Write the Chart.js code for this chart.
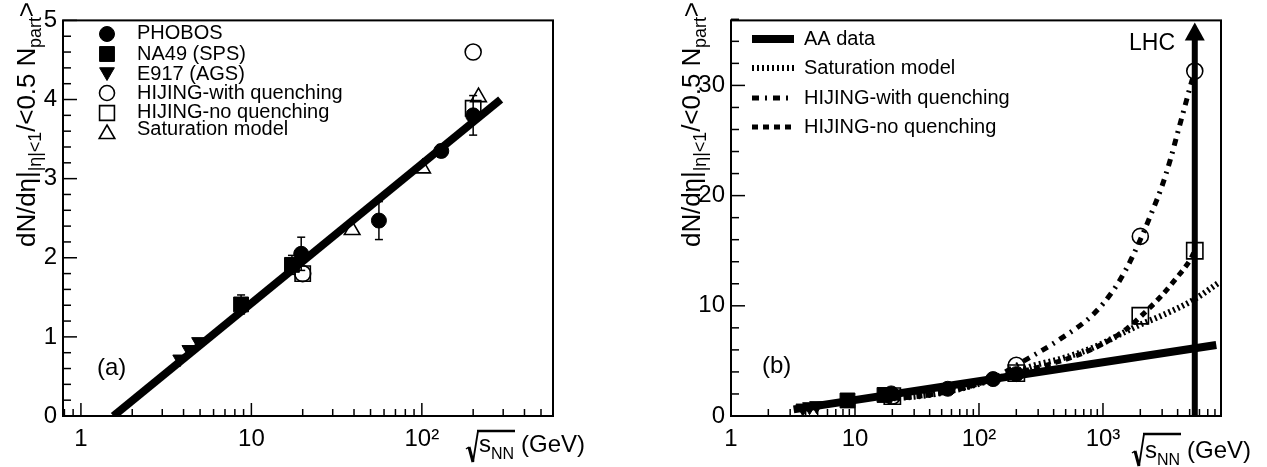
<!DOCTYPE html>
<html>
<head>
<meta charset="utf-8">
<script src="https://cdn.jsdelivr.net/npm/chart.js@4.4.0/dist/chart.umd.min.js"></script>
<style>
  html, body { margin: 0; padding: 0; background: #fff; }
  #wrap { position: relative; width: 1267px; height: 467px; overflow: hidden; }
  #boxA { position: absolute; left: 0; top: 0; width: 633px; height: 467px; }
  #boxB { position: absolute; left: 633px; top: 0; width: 634px; height: 467px; }
</style>
</head>
<body>
<div id="wrap">
  <div id="boxA"><canvas id="chartA" width="633" height="467"></canvas></div>
  <div id="boxB"><canvas id="chartB" width="634" height="467"></canvas></div>
</div>
<script>
const FONT = '"Liberation Sans", Arial, Helvetica, sans-serif';

// ---- measured points ----
const phobosEnergy = [19.6, 56, 130, 200];
const phobosMult = [2.05, 2.47, 3.35, 3.80];
const phobosErr = [0.21, 0.24, 0.08, 0.25];

const na49Energy = [8.7, 17.3];
const na49Mult = [1.41, 1.91];
const na49Err = [0.12, 0.12];

const e917Energy = [3.8, 4.3, 4.9];
const e917Mult = [0.72, 0.84, 0.94];

// ---- model points ----
const hijingQuenchEnergy = [20, 200, 2000, 5500];
const hijingQuenchMult = [1.8, 4.6, 16.3, 31.3];
const hijingNoQuenchEnergy = [20, 200, 2000, 5500];
const hijingNoQuenchMult = [1.8, 3.89, 9.1, 15.0];
const saturationEnergy = [39, 101, 215];
const saturationMult = [2.35, 3.13, 4.03];

// ---- AA data fit line (end points) ----
const aaFitEnergyA = [1.55, 290];
const aaFitMultA = [0, 4.0];
const aaFitEnergyB = [3.2, 8200];
const aaFitMultB = [0.6, 6.45];

// ---- model curves, panel (b) ----
const satCurveEnergy = [17, 30, 45, 70, 130, 200, 275, 450, 830, 1550, 2000, 2900, 5400, 8600];
const satCurveMult = [1.55, 1.75, 2.0, 2.45, 3.3, 4.0, 4.57, 5.17, 6.2, 7.7, 8.3, 9.06, 10.55, 12.1];
const hqCurveEnergy = [17, 30, 45, 70, 130, 200, 450, 830, 1220, 1550, 2000, 2500, 3000, 3500, 4000, 4500, 5000, 5400];
const hqCurveMult = [1.55, 1.75, 2.0, 2.45, 3.4, 4.6, 6.97, 9.2, 11.45, 13.4, 16.0, 18.6, 20.9, 23.3, 25.7, 27.8, 29.7, 31.0];
const hnCurveEnergy = [17, 30, 45, 70, 130, 200, 400, 830, 1550, 2000, 2900, 3900, 5000, 5400];
const hnCurveMult = [1.55, 1.75, 2.0, 2.45, 3.3, 3.9, 4.8, 6.1, 7.9, 9.0, 10.8, 12.5, 14.1, 14.8];

const lhcEnergy = 5500;

// ---- axes ----
const xTicksA = [1, 10, 100];
const xLabelsA = ['1', '10', '10\u00b2'];
const xTicksB = [1, 10, 100, 1000];
const xLabelsB = ['1', '10', '10\u00b2', '10\u00b3'];
const yTicksA = [0, 1, 2, 3, 4, 5];
const yTicksB = [0, 10, 20, 30];

const SAT_DASH = [2, 3];
const HQ_DASH = [7, 6, 2, 6];
const HN_DASH = [6, 5];

function xy(xs, ys) {
  return xs.map((x, i) => ({ x: x, y: ys[i] }));
}

function markers(label, xs, ys, style, radius, filled, rotation, errs) {
  return {
    label: label,
    data: xy(xs, ys),
    showLine: false,
    pointStyle: style,
    pointRadius: radius,
    pointHoverRadius: radius,
    pointRotation: rotation || 0,
    pointBackgroundColor: filled ? '#000' : 'rgba(0,0,0,0)',
    pointBorderColor: '#000',
    pointBorderWidth: filled ? 1 : 1.6,
    errors: errs,
    order: 2
  };
}

function curve(label, xs, ys, width, dash, smooth) {
  return {
    label: label,
    data: xy(xs, ys),
    showLine: true,
    pointRadius: 0,
    pointHoverRadius: 0,
    borderColor: '#000',
    borderWidth: width,
    borderDash: dash || [],
    borderCapStyle: 'butt',
    tension: smooth ? 0.4 : 0,
    cubicInterpolationMode: smooth ? 'monotone' : 'default',
    fill: false,
    order: 1
  };
}

function drawMarker(ctx, style, r, filled, rot, x, y) {
  ctx.save();
  ctx.fillStyle = '#000';
  ctx.strokeStyle = '#000';
  ctx.lineWidth = filled ? 1 : 1.6;
  ctx.beginPath();
  if (style === 'circle') {
    ctx.arc(x, y, r, 0, Math.PI * 2);
  } else if (style === 'rect') {
    const s = Math.SQRT1_2 * r;
    ctx.rect(x - s, y - s, 2 * s, 2 * s);
  } else {
    let a = (rot || 0) * Math.PI / 180;
    ctx.moveTo(x + Math.sin(a) * r, y - Math.cos(a) * r);
    a += 2 * Math.PI / 3;
    ctx.lineTo(x + Math.sin(a) * r, y - Math.cos(a) * r);
    a += 2 * Math.PI / 3;
    ctx.lineTo(x + Math.sin(a) * r, y - Math.cos(a) * r);
    ctx.closePath();
  }
  if (filled) ctx.fill();
  ctx.stroke();
  ctx.restore();
}

function seg(ctx, x1, y1, x2, y2) {
  ctx.beginPath();
  ctx.moveTo(x1, y1);
  ctx.lineTo(x2, y2);
  ctx.stroke();
}

function drawFrameAndTicks(chart, yMinor, yMajor) {
  const { ctx, chartArea: a, scales: { x, y } } = chart;
  ctx.save();
  ctx.strokeStyle = '#000';
  ctx.lineWidth = 1.5;
  const lo = Math.floor(Math.log10(x.min));
  const hi = Math.ceil(Math.log10(x.max));
  for (let k = lo; k <= hi; k++) {
    for (let m = 1; m <= 9; m++) {
      const v = m * Math.pow(10, k);
      if (v < x.min || v > x.max) continue;
      const px = x.getPixelForValue(v);
      seg(ctx, px, a.bottom, px, a.bottom - (m === 1 ? 13 : 7));
    }
  }
  const n = Math.round((y.max - y.min) / yMinor);
  for (let i = 0; i <= n; i++) {
    const v = y.min + i * yMinor;
    const major = Math.abs(v / yMajor - Math.round(v / yMajor)) < 1e-6;
    const py = y.getPixelForValue(v);
    seg(ctx, a.left, py, a.left + (major ? 14 : 8), py);
  }
  ctx.lineWidth = 2;
  ctx.strokeRect(a.left, a.top, a.right - a.left, a.bottom - a.top);
  ctx.restore();
}

function drawErrors(chart) {
  const { ctx, scales: { x, y } } = chart;
  ctx.save();
  ctx.strokeStyle = '#000';
  ctx.lineWidth = 1.5;
  chart.data.datasets.forEach(ds => {
    if (!ds.errors) return;
    ds.data.forEach((p, j) => {
      const e = ds.errors[j];
      if (!e) return;
      const px = x.getPixelForValue(p.x);
      const t = y.getPixelForValue(p.y + e);
      const b = y.getPixelForValue(p.y - e);
      seg(ctx, px, t, px, b);
      seg(ctx, px - 4, t, px + 4, t);
      seg(ctx, px - 4, b, px + 4, b);
    });
  });
  ctx.restore();
}

function drawVerticalTitle(ctx, baseX, startY, length) {
  const runs = [
    { t: 'dN/d\u03b7|', s: 26, dy: 0 },
    { t: '|\u03b7|<1', s: 18, dy: 6 },
    { t: '/<0.5 N', s: 26, dy: 0 },
    { t: 'part', s: 18, dy: 6 },
    { t: '>', s: 26, dy: 0 }
  ];
  ctx.save();
  ctx.translate(baseX, startY);
  ctx.rotate(-Math.PI / 2);
  ctx.fillStyle = '#000';
  ctx.textAlign = 'left';
  ctx.textBaseline = 'alphabetic';
  let natural = 0, count = 0;
  runs.forEach(r => {
    ctx.font = r.s + 'px ' + FONT;
    for (const ch of r.t) { natural += ctx.measureText(ch).width; count++; }
  });
  const extra = (length - natural) / (count - 1);
  let cx = 0;
  runs.forEach(r => {
    ctx.font = r.s + 'px ' + FONT;
    for (const ch of r.t) {
      ctx.fillText(ch, cx, r.dy);
      cx += ctx.measureText(ch).width + extra;
    }
  });
  ctx.restore();
}

function drawSqrtTitle(ctx, x0, yTop, yBot, baseline) {
  ctx.save();
  ctx.strokeStyle = '#000';
  ctx.fillStyle = '#000';
  ctx.lineJoin = 'miter';
  ctx.lineWidth = 1.5;
  seg(ctx, x0, yBot - 13, x0 + 3, yBot - 15);
  ctx.lineWidth = 3;
  seg(ctx, x0 + 3, yBot - 15, x0 + 7, yBot);
  ctx.lineWidth = 1.8;
  ctx.beginPath();
  ctx.moveTo(x0 + 7, yBot);
  ctx.lineTo(x0 + 12, yTop);
  ctx.stroke();
  ctx.lineWidth = 2.5;
  seg(ctx, x0 + 11, yTop, x0 + 49, yTop);
  ctx.textAlign = 'left';
  ctx.textBaseline = 'alphabetic';
  ctx.font = '24px ' + FONT;
  ctx.fillText('s', x0 + 13, baseline);
  ctx.font = '16px ' + FONT;
  ctx.fillText('NN', x0 + 25, baseline + 7);
  ctx.font = '24px ' + FONT;
  ctx.fillText('(GeV)', x0 + 55, baseline);
  ctx.restore();
}

function decorPlugin(id, after) {
  return {
    id: id,
    afterDatasetsDraw(chart) { drawErrors(chart); if (after.datasets) after.datasets(chart); },
    afterDraw(chart) { after.draw(chart); }
  };
}

function buildChart(canvasId, cfg) {
  return new Chart(document.getElementById(canvasId), {
    type: 'scatter',
    data: { datasets: cfg.datasets },
    options: {
      responsive: false,
      animation: false,
      devicePixelRatio: 1,
      layout: { padding: { left: 0, top: 16, right: cfg.padRight, bottom: 0 } },
      plugins: { legend: { display: false }, tooltip: { enabled: false } },
      scales: {
        x: {
          type: 'logarithmic',
          min: cfg.xMin,
          max: cfg.xMax,
          afterBuildTicks: s => { s.ticks = cfg.xTicks.map(v => ({ value: v })); },
          afterFit: s => { s.height = 51; },
          ticks: {
            autoSkip: false, maxRotation: 0, minRotation: 0, padding: 9, color: '#000',
            font: { family: FONT, size: 24 },
            callback: (v, i) => cfg.xLabels[i]
          },
          grid: { display: false, drawTicks: false },
          border: { display: false }
        },
        y: {
          type: 'linear',
          min: 0,
          max: cfg.yMax,
          afterBuildTicks: s => { s.ticks = cfg.yTicks.map(v => ({ value: v })); },
          afterFit: s => { s.width = cfg.yAxisWidth; },
          ticks: {
            padding: 6, color: '#000',
            font: { family: FONT, size: 24 },
            callback: v => String(v)
          },
          grid: { display: false, drawTicks: false },
          border: { display: false }
        }
      }
    },
    plugins: [decorPlugin(canvasId + 'Decor', cfg.decor)]
  });
}

// ---- panel (a) ----
const legendA = [
  { style: 'circle', r: 7.5, filled: true, rot: 0, y: 34, ty: 33, text: 'PHOBOS' },
  { style: 'rect', r: 10.5, filled: true, rot: 0, y: 54, ty: 54, text: 'NA49 (SPS)' },
  { style: 'triangle', r: 8.5, filled: true, rot: 180, y: 72, ty: 74, text: 'E917 (AGS)' },
  { style: 'circle', r: 7.5, filled: false, rot: 0, y: 93, ty: 93, text: 'HIJING-with quenching' },
  { style: 'rect', r: 10.5, filled: false, rot: 0, y: 113, ty: 112, text: 'HIJING-no quenching' },
  { style: 'triangle', r: 9, filled: false, rot: 0, y: 134, ty: 129, text: 'Saturation model' }
];

buildChart('chartA', {
  xMin: 0.785, xMax: 588, yMax: 5,
  xTicks: xTicksA, xLabels: xLabelsA, yTicks: yTicksA,
  yAxisWidth: 63, padRight: 80,
  datasets: [
    curve('AA data', aaFitEnergyA, aaFitMultA, 8, null, false),
    markers('PHOBOS', phobosEnergy, phobosMult, 'circle', 7.5, true, 0, phobosErr),
    markers('NA49 (SPS)', na49Energy, na49Mult, 'rect', 10.5, true, 0, na49Err),
    markers('E917 (AGS)', e917Energy, e917Mult, 'triangle', 8, true, 180),
    markers('HIJING-with quenching', hijingQuenchEnergy.slice(0, 2), hijingQuenchMult.slice(0, 2), 'circle', 8, false, 0),
    markers('HIJING-no quenching', hijingNoQuenchEnergy.slice(0, 2), hijingNoQuenchMult.slice(0, 2), 'rect', 10.8, false, 0),
    markers('Saturation model', saturationEnergy, saturationMult, 'triangle', 9, false, 0)
  ],
  decor: {
    draw(chart) {
      const ctx = chart.ctx;
      drawFrameAndTicks(chart, 0.2, 1);
      ctx.save();
      legendA.forEach(it => {
        drawMarker(ctx, it.style, it.r, it.filled, it.rot, 107, it.y);
        ctx.fillStyle = '#000';
        ctx.font = '20px ' + FONT;
        ctx.textAlign = 'left';
        ctx.textBaseline = 'middle';
        ctx.fillText(it.text, 137, it.ty);
      });
      ctx.font = '24px ' + FONT;
      ctx.textBaseline = 'alphabetic';
      ctx.fillText('(a)', 97, 375);
      ctx.restore();
      drawVerticalTitle(ctx, 35, 247, 245);
      drawSqrtTitle(ctx, 466, 431, 462, 452);
    }
  }
});

// ---- panel (b) ----
const legendB = [
  { text: 'AA data', width: 8, dash: [], y: 39 },
  { text: 'Saturation model', width: 6, dash: SAT_DASH, y: 68 },
  { text: 'HIJING-with quenching', width: 5, dash: HQ_DASH, y: 98 },
  { text: 'HIJING-no quenching', width: 5, dash: HN_DASH, y: 127 }
];

buildChart('chartB', {
  xMin: 1, xMax: 8950, yMax: 35.9,
  xTicks: xTicksB, xLabels: xLabelsB, yTicks: yTicksB,
  yAxisWidth: 98, padRight: 46,
  datasets: [
    curve('AA data', aaFitEnergyB, aaFitMultB, 8, null, false),
    curve('Saturation model', satCurveEnergy, satCurveMult, 6, SAT_DASH, true),
    curve('HIJING-with quenching', hqCurveEnergy, hqCurveMult, 5, HQ_DASH, true),
    curve('HIJING-no quenching', hnCurveEnergy, hnCurveMult, 5, HN_DASH, true),
    markers('PHOBOS', phobosEnergy, phobosMult, 'circle', 7.5, true, 0),
    markers('NA49 (SPS)', na49Energy, na49Mult, 'rect', 10.5, true, 0),
    markers('E917 (AGS)', e917Energy, e917Mult, 'triangle', 8, true, 180),
    markers('HIJING-with quenching', hijingQuenchEnergy, hijingQuenchMult, 'circle', 8, false, 0),
    markers('HIJING-no quenching', hijingNoQuenchEnergy, hijingNoQuenchMult, 'rect', 11.5, false, 0)
  ],
  decor: {
    datasets(chart) {
      const { ctx, chartArea: a, scales: { x, y } } = chart;
      const px = x.getPixelForValue(lhcEnergy);
      const tip = a.top + 2;
      ctx.save();
      ctx.strokeStyle = '#000';
      ctx.fillStyle = '#000';
      ctx.lineWidth = 6;
      seg(ctx, px, y.getPixelForValue(0), px, tip + 16);
      ctx.beginPath();
      ctx.moveTo(px, tip);
      ctx.lineTo(px + 10, tip + 18);
      ctx.lineTo(px - 10, tip + 18);
      ctx.closePath();
      ctx.fill();
      ctx.restore();
    },
    draw(chart) {
      const ctx = chart.ctx;
      drawFrameAndTicks(chart, 2, 10);
      ctx.save();
      ctx.translate(-633, 0);
      legendB.forEach(it => {
        ctx.save();
        ctx.strokeStyle = '#000';
        ctx.lineWidth = it.width;
        ctx.lineCap = 'butt';
        ctx.setLineDash(it.dash);
        seg(ctx, 752, it.y, 794, it.y);
        ctx.restore();
        ctx.fillStyle = '#000';
        ctx.font = '20px ' + FONT;
        ctx.textAlign = 'left';
        ctx.textBaseline = 'middle';
        ctx.fillText(it.text, 804, it.y);
      });
      ctx.font = '23px ' + FONT;
      ctx.textAlign = 'right';
      ctx.textBaseline = 'alphabetic';
      ctx.fillText('LHC', 1175, 50);
      ctx.textAlign = 'left';
      ctx.font = '24px ' + FONT;
      ctx.fillText('(b)', 762, 373);
      drawVerticalTitle(ctx, 700, 247, 245);
      drawSqrtTitle(ctx, 1132, 434, 466, 458);
      ctx.restore();
    }
  }
});
</script>
</body>
</html>
